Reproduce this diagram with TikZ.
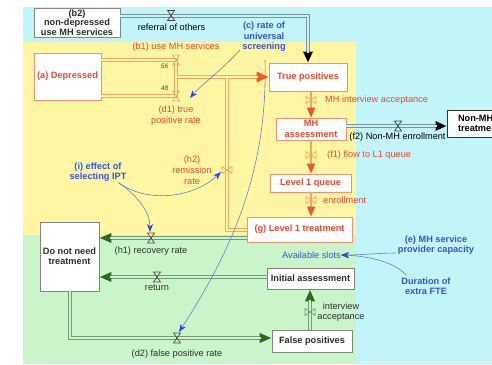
\documentclass[tikz,border=0pt]{standalone}
\usepackage{fontspec}
\setmainfont{Liberation Sans}
\usetikzlibrary{arrows.meta,calc}

\definecolor{cyanbg}{RGB}{194,245,249}
\definecolor{yelbg}{RGB}{255,246,164}
\definecolor{grnbg}{RGB}{202,245,202}
\definecolor{redtxt}{RGB}{236,72,46}
\definecolor{redline}{RGB}{242,146,112}
\definecolor{orpipe}{RGB}{240,166,100}
\definecolor{redtip}{RGB}{242,84,36}
\definecolor{bluetxt}{RGB}{52,82,232}
\definecolor{blueline}{RGB}{98,130,196}
\definecolor{bluetip}{RGB}{36,70,236}
\definecolor{grnpipe}{RGB}{120,150,120}
\definecolor{grntip}{RGB}{44,104,30}
\definecolor{graypipe}{RGB}{130,146,146}
\definecolor{grayline}{RGB}{128,136,128}
\definecolor{darktxt}{RGB}{40,48,40}

\tikzset{
  bx/.style={draw, fill=white, align=center, inner sep=0pt, line width=0.8pt,
    font=\bfseries\fontsize{9.2}{10.4}\selectfont},
  redbox/.style={bx, draw=redline, text=redtxt},
  grybox/.style={bx, draw=grayline, text=darktxt},
  lbl/.style={align=center, inner sep=0pt, font=\fontsize{9.2}{10.8}\selectfont},
  redlbl/.style={lbl, text=redtxt},
  darklbl/.style={lbl, text=darktxt},
  bluelbl/.style={lbl, text=bluetxt, font=\bfseries\fontsize{9.2}{10.4}\selectfont},
  smallnum/.style={inner sep=0pt, text=black!70, font=\itshape\fontsize{6.5}{7}\selectfont},
  outer/.style={line width=4pt, draw=#1},
  inner/.style={line width=2pt, draw=#1},
  redarrow/.style={-{Triangle[length=12pt,width=10pt,color=redtip]}},
  grnarrow/.style={-{Triangle[length=12pt,width=9pt,color=grntip]}},
  blkarrow/.style={-{Triangle[length=11pt,width=9pt,color=black]}},
  flowline/.style={draw=orpipe, line width=1.6pt, -{Triangle[length=10pt,width=8pt,color=redtip]}},
  infl/.style={draw=blueline, line width=0.6pt, -{Stealth[length=8pt,width=6pt,color=bluetip]}},
  hvalve/.pic={\draw[pic actions, line width=0.7pt] (-3.5,-5) -- (3.5,-5) -- (-3.5,5) -- (3.5,5) -- cycle;},
  bvalve/.pic={\draw[pic actions, line width=0.7pt] (-5,-3.5) -- (-5,3.5) -- (5,-3.5) -- (5,3.5) -- cycle;},
}

\begin{document}
\begin{tikzpicture}[x=1pt,y=-1pt]
\useasboundingbox (0,0) rectangle (492,364);

% sector backgrounds
\fill[cyanbg] (23,7) rectangle (492,364);
\fill[yelbg] (23,42) rectangle (356,235);
\fill[grnbg] (23,235) rectangle (356,364);

% stocks
\node[grybox, minimum width=86pt, minimum height=29pt, font=\bfseries\fontsize{9.2}{9.7}\selectfont] (b2) at (77,22.5) {(b2)\\non-depressed\\use MH services};
\node[redbox, minimum width=67pt, minimum height=47pt] (dep) at (67.5,76.5) {(a) Depressed};
\node[redbox, minimum width=78pt, minimum height=28pt] (tp) at (308,77) {True positives};
\node[redbox, minimum width=70pt, minimum height=22pt, font=\bfseries\fontsize{9.2}{10.6}\selectfont] (mh) at (311,129) {MH\\assessment};
\node[redbox, minimum width=81pt, minimum height=18pt] (l1q) at (310.5,183) {Level 1 queue};
\node[redbox, minimum width=105pt, minimum height=25pt] (g) at (299.5,229.5) {(g) Level 1 treatment};
\node[bx, draw=black!80, text=black, minimum width=64pt, minimum height=27pt, align=left] (nonmh) at (479,123.5) {Non-MH\\treatment};
\node[grybox, minimum width=59pt, minimum height=69pt] (dnt) at (69.5,256.5) {Do not need\\treatment};
\node[grybox, minimum width=87pt, minimum height=21pt] (ia) at (310.5,278.5) {Initial assessment};
\node[grybox, minimum width=80pt, minimum height=22pt] (fp) at (312,341) {False positives};

% valve positions
\coordinate (vRef) at (171,15.5);
\coordinate (vB1) at (176,60);
\coordinate (vD1) at (176,96);
\coordinate (jB) at (176,77);
\coordinate (vH2) at (227,170);
\coordinate (vMHI) at (311,100);
\coordinate (vF2) at (398,126);
\coordinate (vF1) at (311,155);
\coordinate (vEnr) at (311,200);
\coordinate (vH1) at (151,238);
\coordinate (vRet) at (157,277);
\coordinate (vD2) at (177,338);
\coordinate (vIA) at (310,312);

% pipes: walls first
\draw[outer=orpipe] (dep.east |- vB1) -- (vB1) -- (vD1) -- (dep.east |- vD1);
\draw[outer=orpipe, redarrow] (jB) -- (tp.west);
\draw[outer=orpipe] (g.west) -- (g.west -| vH2) -- (vH2) -- (vH2 |- jB);
\draw[outer=graypipe, blkarrow] (b2.east |- vRef) -- (tp.north |- vRef) -- (tp.north);
\draw[outer=graypipe, blkarrow] (mh.east |- vF2) -- (nonmh.west |- vF2);
\draw[outer=grnpipe, grnarrow] (g.west |- vH1) -- (dnt.east |- vH1);
\draw[outer=grnpipe, grnarrow] (ia.west |- vRet) -- (dnt.east |- vRet);
\draw[outer=grnpipe, grnarrow] (dnt.south) -- (dnt.south |- vD2) -- (fp.west |- vD2);
\draw[outer=grnpipe, grnarrow] (fp.north -| vIA) -- (ia.south -| vIA);
% pipes: interiors
\draw[inner=yelbg] (dep.east |- vB1) -- (vB1) -- (vD1) -- (dep.east |- vD1);
\draw[inner=yelbg, shorten >=11pt] (jB) -- (tp.west);
\draw[inner=yelbg] (g.west) -- (g.west -| vH2) -- (vH2) -- (vH2 |- jB);
\draw[inner=cyanbg, shorten >=10pt] (b2.east |- vRef) -- (tp.north |- vRef) -- (tp.north);
\draw[inner=cyanbg, shorten >=10pt] (mh.east |- vF2) -- (nonmh.west |- vF2);
\draw[inner=grnbg, shorten >=11pt] (g.west |- vH1) -- (dnt.east |- vH1);
\draw[inner=grnbg, shorten >=11pt] (ia.west |- vRet) -- (dnt.east |- vRet);
\draw[inner=grnbg, shorten >=11pt] (dnt.south) -- (dnt.south |- vD2) -- (fp.west |- vD2);
\draw[inner=grnbg, shorten >=11pt] (fp.north -| vIA) -- (ia.south -| vIA);

% single-line flows through the treatment chain
\draw[flowline] (vMHI |- tp.south) -- (vMHI |- mh.north);
\draw[flowline] (vF1 |- mh.south) -- (vF1 |- l1q.north);
\draw[flowline] (vEnr |- l1q.south) -- (vEnr |- g.north);

% valves
\pic[draw=black!75] at (vRef) {hvalve};
\pic[draw=orpipe] at (vB1) {hvalve};
\pic[draw=orpipe] at (vD1) {hvalve};
\pic[draw=orpipe] at (vH2) {bvalve};
\pic[draw=orpipe] at (vMHI) {bvalve};
\pic[draw=orpipe] at (vF1) {bvalve};
\pic[draw=orpipe] at (vEnr) {bvalve};
\pic[draw=black!75] at (vF2) {hvalve};
\pic[draw=black!70] at (vH1) {hvalve};
\pic[draw=black!70] at (vRet) {hvalve};
\pic[draw=black!70] at (vD2) {hvalve};
\pic[draw=grnpipe] at (vIA) {bvalve};

% flow and variable labels
\node[darklbl, text=black] (lref) at (171.5,27) {referral of others};
\node[bluelbl] (cscr) at (264,37) {(c) rate of\\universal\\screening};
\node[redlbl] (lb1) at (176,47) {(b1) use MH services};
\node[smallnum] (n56) at (164.5,66.5) {56};
\node[smallnum] (n48) at (164.5,88.5) {48};
\node[redlbl] (ld1) at (176,116) {(d1) true\\positive rate};
\node[redlbl, anchor=west] (lmhi) at (325,100) {MH interview acceptance};
\node[darklbl, text=black] (lf2) at (397.5,137) {(f2) Non-MH enrollment};
\node[redlbl, anchor=west] (lf1) at (327,155) {(f1) flow to L1 queue};
\node[redlbl, anchor=west] (lenr) at (323,200) {enrollment};
\node[redlbl] (lh2) at (192,170) {(h2)\\remission\\rate};
\node[bluelbl] (ipt) at (98,172) {(i) effect of\\selecting IPT};
\node[darklbl] (lh1) at (151,251) {(h1) recovery rate};
\node[darklbl] (lret) at (157,288) {return};
\node[darklbl] (ld2) at (177,354) {(d2) false positive rate};
\node[darklbl, font=\fontsize{9.2}{10.4}\selectfont] (lia) at (341,312) {interview\\acceptance};
\node[lbl, text=bluetxt] (slots) at (311.5,255) {Available slots};
\node[bluelbl] (cap) at (436,245) {(e) MH service\\provider capacity};
\node[bluelbl] (fte) at (426,286) {Duration of\\extra FTE};

% influence links
\draw[infl] (cscr.south west) ++(-2,-2) .. controls (222,70) and (200,86) .. ($(vD1)+(14,2)$);
\draw[infl] ($(cscr.south)+(1,8)$) .. controls (268,170) and (232,250) .. ($(vD2)+(2,-6)$);
\draw[infl] ($(ipt.south east)+(-8,1)$) .. controls (150,205) and (196,196) .. ($(vH2)+(-6,2)$);
\draw[infl] ($(ipt.south east)+(-8,1)$) .. controls (138,196) and (150,212) .. ($(vH1)+(-1,-6)$);
\draw[infl] ($(cap.west)+(-2,8)$) .. controls (380,253) and (360,255) .. (slots.east);
\draw[infl] ($(fte.north west)+(5,-2)$) .. controls (395,262) and (368,256) .. (slots.east);
\end{tikzpicture}
\end{document}
